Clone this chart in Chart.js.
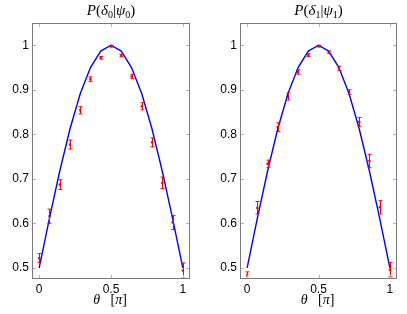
<!DOCTYPE html>
<html>
<head>
<meta charset="utf-8">
<script src="https://cdn.jsdelivr.net/npm/chart.js@4/dist/chart.umd.min.js"></script>
<style>
  html, body { margin: 0; padding: 0; background: #fff; }
  body { width: 407px; height: 314px; position: relative; overflow: hidden; }
  canvas { position: absolute; top: 0; }
</style>
</head>
<body>
<canvas id="left" width="205" height="314" style="left:0"></canvas>
<canvas id="right" width="202" height="314" style="left:205px"></canvas>
<script>
// theta in units of pi, k/14
const thetas = [0, 0.0714, 0.1429, 0.2143, 0.2857, 0.3571, 0.4286, 0.5, 0.5714, 0.6429, 0.7143, 0.7857, 0.8571, 0.9286, 1];
const theory = [0.5, 0.611, 0.717, 0.812, 0.891, 0.950, 0.987, 1.0, 0.987, 0.950, 0.891, 0.812, 0.717, 0.611, 0.5];

const measured0 = [0.522, 0.616, 0.687, 0.777, 0.854, 0.924, 0.972, 0.998, 0.977, 0.930, 0.863, 0.782, 0.691, 0.602, 0.494];
const errors0   = [0.010, 0.016, 0.011, 0.010, 0.008, 0.005, 0.003, 0.002, 0.003, 0.005, 0.008, 0.010, 0.013, 0.016, 0.017];

const measured1 = [0.483, 0.635, 0.734, 0.816, 0.885, 0.940, 0.978, 0.998, 0.984, 0.948, 0.895, 0.828, 0.740, 0.636, 0.496];
const errors1   = [0.008, 0.014, 0.008, 0.010, 0.008, 0.005, 0.003, 0.002, 0.003, 0.005, 0.005, 0.010, 0.015, 0.015, 0.016];

const xTicks = [0, 0.5, 1];
const xTickLabels = ['0', '0.5', '1'];
const yTicks = [0.5, 0.6, 0.7, 0.8, 0.9, 1];
const yTickLabels = ['0.5', '0.6', '0.7', '0.8', '0.9', '1'];

const serif = '"Liberation Serif", "DejaVu Serif", serif';

// draw a row of text pieces centred on cx
function drawPieces(ctx, pieces, cx, y) {
  let total = 0;
  pieces.forEach(p => { ctx.font = p.f; p.w = ctx.measureText(p.t).width; total += p.w; });
  let x = cx - total / 2;
  ctx.textAlign = 'left';
  ctx.textBaseline = 'alphabetic';
  ctx.fillStyle = '#000';
  pieces.forEach(p => { ctx.font = p.f; ctx.fillText(p.t, x, y + (p.dy || 0)); x += p.w; });
}

function titlePieces(idx) {
  const it = 'italic 15px ' + serif, up = '15px ' + serif, sub = '10px ' + serif;
  return [
    { t: 'P', f: it }, { t: '(', f: up }, { t: 'δ', f: it }, { t: idx, f: sub, dy: 3 },
    { t: '|', f: up }, { t: 'ψ', f: it }, { t: idx, f: sub, dy: 3 }, { t: ')', f: up }
  ];
}

const frame = {
  id: 'frame',
  afterDatasetsDraw(chart, args, opts) {
    const ctx = chart.ctx, a = chart.chartArea;
    const xs = chart.scales.x, ys = chart.scales.y;
    // error bars
    ctx.save();
    ctx.beginPath();
    ctx.rect(a.left, a.top, a.right - a.left, a.bottom - a.top);
    ctx.clip();
    ctx.strokeStyle = '#ff0000';
    ctx.lineWidth = 1;
    opts.values.forEach((v, i) => {
      const px = Math.round(xs.getPixelForValue(thetas[i])) + 0.5;
      const y1 = ys.getPixelForValue(v + opts.errors[i]);
      const y2 = ys.getPixelForValue(v - opts.errors[i]);
      ctx.beginPath();
      ctx.moveTo(px, y1); ctx.lineTo(px, y2);
      ctx.moveTo(px - 2, y1); ctx.lineTo(px + 2, y1);
      ctx.moveTo(px - 2, y2); ctx.lineTo(px + 2, y2);
      ctx.stroke();
    });
    ctx.restore();
  },
  afterDraw(chart, args, opts) {
    const ctx = chart.ctx, a = chart.chartArea;
    const xs = chart.scales.x, ys = chart.scales.y;
    ctx.save();
    // inside tick marks on all four sides
    ctx.strokeStyle = '#b4b4b4';
    ctx.lineWidth = 1;
    ctx.beginPath();
    xTicks.forEach(v => {
      const px = Math.round(xs.getPixelForValue(v)) + 0.5;
      ctx.moveTo(px, a.bottom); ctx.lineTo(px, a.bottom - 4);
      ctx.moveTo(px, a.top); ctx.lineTo(px, a.top + 4);
    });
    yTicks.forEach(v => {
      const py = Math.round(ys.getPixelForValue(v)) + 0.5;
      ctx.moveTo(a.left, py); ctx.lineTo(a.left + 4, py);
      ctx.moveTo(a.right, py); ctx.lineTo(a.right - 4, py);
    });
    ctx.stroke();
    // box
    ctx.strokeStyle = '#7a7a7a';
    ctx.strokeRect(a.left + 0.5, a.top + 0.5, a.right - a.left - 1, a.bottom - a.top - 1);
    // titles
    const cx = (a.left + a.right) / 2;
    drawPieces(ctx, titlePieces(opts.idx), cx, 15);
    drawPieces(ctx, [
      { t: 'θ', f: 'italic 14px ' + serif }, { t: '   [', f: '14px ' + serif },
      { t: 'π', f: 'italic 14px ' + serif }, { t: ']', f: '14px ' + serif }
    ], cx - 1, 304);
    ctx.restore();
  }
};

function makeChart(id, values, errors, idx, pad) {
  new Chart(document.getElementById(id), {
    type: 'line',
    data: {
      datasets: [
        {
          data: thetas.map((t, i) => ({ x: t, y: theory[i] })),
          borderColor: '#0000ff',
          borderWidth: 1.4,
          pointRadius: 0,
          tension: 0
        },
        {
          type: 'scatter',
          data: thetas.map((t, i) => ({ x: t, y: values[i] })),
          backgroundColor: '#ff0000',
          borderColor: '#ff0000',
          pointStyle: 'rect',
          pointRadius: 1.6,
          borderWidth: 0
        }
      ]
    },
    options: {
      responsive: false,
      animation: false,
      devicePixelRatio: 1,
      layout: { padding: pad },
      plugins: {
        legend: { display: false },
        tooltip: { enabled: false },
        frame: { values: values, errors: errors, idx: idx }
      },
      scales: {
        x: {
          type: 'linear',
          min: -0.05, max: 1.05,
          grid: { display: false, drawTicks: false },
          border: { display: false },
          afterFit: s => { s.height = 35; },
          afterBuildTicks: s => { s.ticks = xTicks.map(v => ({ value: v })); },
          ticks: {
            padding: 3,
            color: '#000',
            font: { family: '"Liberation Sans", Arial, sans-serif', size: 12 },
            callback: v => xTickLabels[xTicks.indexOf(v)],
            maxRotation: 0
          }
        },
        y: {
          min: 0.475, max: 1.05,
          grid: { display: false, drawTicks: false },
          border: { display: false },
          afterFit: s => { s.width = pad.yw; },
          afterBuildTicks: s => { s.ticks = yTicks.map(v => ({ value: v })); },
          ticks: {
            padding: 3,
            color: '#000',
            font: { family: '"Liberation Sans", Arial, sans-serif', size: 12 },
            callback: v => yTickLabels[yTicks.indexOf(v)]
          }
        }
      }
    },
    plugins: [frame]
  });
}

makeChart('left', measured0, errors0, '0', { left: 0, right: 15, top: 23, bottom: 0, yw: 32 });
makeChart('right', measured1, errors1, '1', { left: 0, right: 10, top: 23, bottom: 0, yw: 35 });
</script>
</body>
</html>
